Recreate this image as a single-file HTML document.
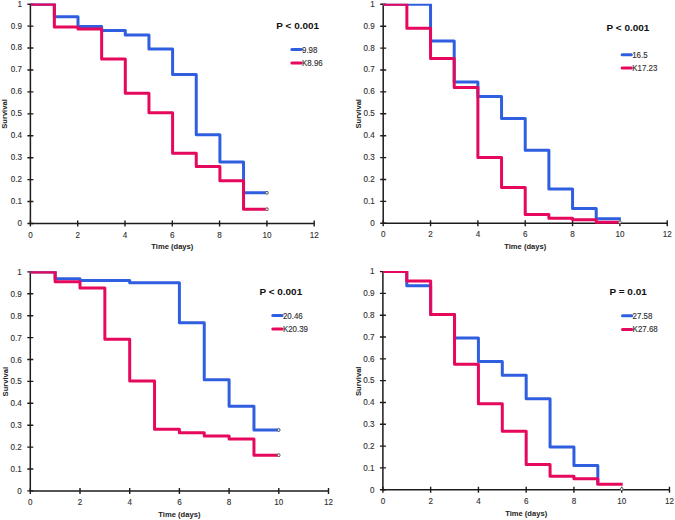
<!DOCTYPE html>
<html><head><meta charset="utf-8"><style>
html,body{margin:0;padding:0;background:#fff;}
body{width:675px;height:520px;overflow:hidden;}
svg{display:block;}
text{font-family:"Liberation Sans",sans-serif;}
</style></head><body>
<svg width="675" height="520" viewBox="0 0 675 520">
<rect width="675" height="520" fill="#fff"/>
<g>
<path d="M30.4 4.2 V223.5 H314.2" fill="none" stroke="#1c1c1c" stroke-width="1.5"/>
<path d="M27.4 223.5 H33.4 M27.4 201.57 H33.4 M27.4 179.64 H33.4 M27.4 157.71 H33.4 M27.4 135.78 H33.4 M27.4 113.85 H33.4 M27.4 91.92 H33.4 M27.4 69.99 H33.4 M27.4 48.06 H33.4 M27.4 26.13 H33.4 M27.4 4.2 H33.4 M30.4 220.5 V226.5 M77.7 220.5 V226.5 M125 220.5 V226.5 M172.3 220.5 V226.5 M219.6 220.5 V226.5 M266.9 220.5 V226.5 M314.2 220.5 V226.5" fill="none" stroke="#1c1c1c" stroke-width="1.4"/>
<text transform="translate(21.9 225.9) scale(0.9 1)" font-size="9" fill="#2e2e2e" text-anchor="end" stroke="#2e2e2e" stroke-width="0.12">0</text>
<text transform="translate(21.9 203.97) scale(0.9 1)" font-size="9" fill="#2e2e2e" text-anchor="end" stroke="#2e2e2e" stroke-width="0.12">0.1</text>
<text transform="translate(21.9 182.04) scale(0.9 1)" font-size="9" fill="#2e2e2e" text-anchor="end" stroke="#2e2e2e" stroke-width="0.12">0.2</text>
<text transform="translate(21.9 160.11) scale(0.9 1)" font-size="9" fill="#2e2e2e" text-anchor="end" stroke="#2e2e2e" stroke-width="0.12">0.3</text>
<text transform="translate(21.9 138.18) scale(0.9 1)" font-size="9" fill="#2e2e2e" text-anchor="end" stroke="#2e2e2e" stroke-width="0.12">0.4</text>
<text transform="translate(21.9 116.25) scale(0.9 1)" font-size="9" fill="#2e2e2e" text-anchor="end" stroke="#2e2e2e" stroke-width="0.12">0.5</text>
<text transform="translate(21.9 94.32) scale(0.9 1)" font-size="9" fill="#2e2e2e" text-anchor="end" stroke="#2e2e2e" stroke-width="0.12">0.6</text>
<text transform="translate(21.9 72.39) scale(0.9 1)" font-size="9" fill="#2e2e2e" text-anchor="end" stroke="#2e2e2e" stroke-width="0.12">0.7</text>
<text transform="translate(21.9 50.46) scale(0.9 1)" font-size="9" fill="#2e2e2e" text-anchor="end" stroke="#2e2e2e" stroke-width="0.12">0.8</text>
<text transform="translate(21.9 28.53) scale(0.9 1)" font-size="9" fill="#2e2e2e" text-anchor="end" stroke="#2e2e2e" stroke-width="0.12">0.9</text>
<text transform="translate(21.9 6.6) scale(0.9 1)" font-size="9" fill="#2e2e2e" text-anchor="end" stroke="#2e2e2e" stroke-width="0.12">1</text>
<text transform="translate(30.4 237.8) scale(0.9 1)" font-size="9" fill="#2e2e2e" text-anchor="middle" stroke="#2e2e2e" stroke-width="0.12">0</text>
<text transform="translate(77.7 237.8) scale(0.9 1)" font-size="9" fill="#2e2e2e" text-anchor="middle" stroke="#2e2e2e" stroke-width="0.12">2</text>
<text transform="translate(125 237.8) scale(0.9 1)" font-size="9" fill="#2e2e2e" text-anchor="middle" stroke="#2e2e2e" stroke-width="0.12">4</text>
<text transform="translate(172.3 237.8) scale(0.9 1)" font-size="9" fill="#2e2e2e" text-anchor="middle" stroke="#2e2e2e" stroke-width="0.12">6</text>
<text transform="translate(219.6 237.8) scale(0.9 1)" font-size="9" fill="#2e2e2e" text-anchor="middle" stroke="#2e2e2e" stroke-width="0.12">8</text>
<text transform="translate(266.9 237.8) scale(0.9 1)" font-size="9" fill="#2e2e2e" text-anchor="middle" stroke="#2e2e2e" stroke-width="0.12">10</text>
<text transform="translate(314.2 237.8) scale(0.9 1)" font-size="9" fill="#2e2e2e" text-anchor="middle" stroke="#2e2e2e" stroke-width="0.12">12</text>
<text transform="translate(172.3 248.9) scale(0.95 1)" font-size="8" font-weight="bold" fill="#222" text-anchor="middle">Time (days)</text>
<text transform="translate(7.4 114) rotate(-90) scale(0.95 1)" font-size="8" font-weight="bold" fill="#222" text-anchor="middle">Survival</text>
<clipPath id="c0"><rect x="28.4" y="3.6" width="287.8" height="222.3"/></clipPath>
<g clip-path="url(#c0)">
<path d="M30.7 4.2 H54.35 V16.7 H78 V26.57 H101.65 V30.52 H125.3 V34.9 H148.95 V48.94 H172.6 V74.38 H196.25 V134.68 H219.9 V162.1 H243.55 V192.8 H268.2" fill="none" stroke="#2f5fe0" stroke-width="3" stroke-linejoin="round"/>
<path d="M30.7 4.2 H54.35 V27.01 H78 V28.98 H101.65 V59.02 H125.3 V93.24 H148.95 V112.75 H172.6 V153.32 H196.25 V166.48 H219.9 V180.74 H243.55 V209.25 H268.2" fill="none" stroke="#e5085c" stroke-width="3" stroke-linejoin="round"/>
</g>
<circle cx="266.9" cy="192.8" r="1.35" fill="#fff" stroke="#555" stroke-width="0.9"/>
<circle cx="266.9" cy="209.25" r="1.35" fill="#fff" stroke="#555" stroke-width="0.9"/>
<text transform="translate(276.3 28.8) scale(1.02 1)" font-size="9.8" font-weight="bold" fill="#111" text-anchor="start">P < 0.001</text>
<path d="M291.9 49.5 H301.1" stroke="#2f5fe0" stroke-width="3" stroke-linecap="round"/>
<text transform="translate(302 52.5) scale(0.88 1)" font-size="9" fill="#2b2b2b" text-anchor="start" stroke="#2e2e2e" stroke-width="0.12">9.98</text>
<path d="M291.9 63 H301.1" stroke="#e5085c" stroke-width="3" stroke-linecap="round"/>
<text transform="translate(302 66) scale(0.88 1)" font-size="9" fill="#2b2b2b" text-anchor="start" stroke="#2e2e2e" stroke-width="0.12">K8.96</text>
</g>
<g>
<path d="M383.2 4.3 V223.3 H667.24" fill="none" stroke="#1c1c1c" stroke-width="1.5"/>
<path d="M380.2 223.3 H386.2 M380.2 201.4 H386.2 M380.2 179.5 H386.2 M380.2 157.6 H386.2 M380.2 135.7 H386.2 M380.2 113.8 H386.2 M380.2 91.9 H386.2 M380.2 70 H386.2 M380.2 48.1 H386.2 M380.2 26.2 H386.2 M380.2 4.3 H386.2 M383.2 220.3 V226.3 M430.54 220.3 V226.3 M477.88 220.3 V226.3 M525.22 220.3 V226.3 M572.56 220.3 V226.3 M619.9 220.3 V226.3 M667.24 220.3 V226.3" fill="none" stroke="#1c1c1c" stroke-width="1.4"/>
<text transform="translate(374.7 225.7) scale(0.9 1)" font-size="9" fill="#2e2e2e" text-anchor="end" stroke="#2e2e2e" stroke-width="0.12">0</text>
<text transform="translate(374.7 203.8) scale(0.9 1)" font-size="9" fill="#2e2e2e" text-anchor="end" stroke="#2e2e2e" stroke-width="0.12">0.1</text>
<text transform="translate(374.7 181.9) scale(0.9 1)" font-size="9" fill="#2e2e2e" text-anchor="end" stroke="#2e2e2e" stroke-width="0.12">0.2</text>
<text transform="translate(374.7 160) scale(0.9 1)" font-size="9" fill="#2e2e2e" text-anchor="end" stroke="#2e2e2e" stroke-width="0.12">0.3</text>
<text transform="translate(374.7 138.1) scale(0.9 1)" font-size="9" fill="#2e2e2e" text-anchor="end" stroke="#2e2e2e" stroke-width="0.12">0.4</text>
<text transform="translate(374.7 116.2) scale(0.9 1)" font-size="9" fill="#2e2e2e" text-anchor="end" stroke="#2e2e2e" stroke-width="0.12">0.5</text>
<text transform="translate(374.7 94.3) scale(0.9 1)" font-size="9" fill="#2e2e2e" text-anchor="end" stroke="#2e2e2e" stroke-width="0.12">0.6</text>
<text transform="translate(374.7 72.4) scale(0.9 1)" font-size="9" fill="#2e2e2e" text-anchor="end" stroke="#2e2e2e" stroke-width="0.12">0.7</text>
<text transform="translate(374.7 50.5) scale(0.9 1)" font-size="9" fill="#2e2e2e" text-anchor="end" stroke="#2e2e2e" stroke-width="0.12">0.8</text>
<text transform="translate(374.7 28.6) scale(0.9 1)" font-size="9" fill="#2e2e2e" text-anchor="end" stroke="#2e2e2e" stroke-width="0.12">0.9</text>
<text transform="translate(374.7 6.7) scale(0.9 1)" font-size="9" fill="#2e2e2e" text-anchor="end" stroke="#2e2e2e" stroke-width="0.12">1</text>
<text transform="translate(383.2 237.1) scale(0.9 1)" font-size="9" fill="#2e2e2e" text-anchor="middle" stroke="#2e2e2e" stroke-width="0.12">0</text>
<text transform="translate(430.54 237.1) scale(0.9 1)" font-size="9" fill="#2e2e2e" text-anchor="middle" stroke="#2e2e2e" stroke-width="0.12">2</text>
<text transform="translate(477.88 237.1) scale(0.9 1)" font-size="9" fill="#2e2e2e" text-anchor="middle" stroke="#2e2e2e" stroke-width="0.12">4</text>
<text transform="translate(525.22 237.1) scale(0.9 1)" font-size="9" fill="#2e2e2e" text-anchor="middle" stroke="#2e2e2e" stroke-width="0.12">6</text>
<text transform="translate(572.56 237.1) scale(0.9 1)" font-size="9" fill="#2e2e2e" text-anchor="middle" stroke="#2e2e2e" stroke-width="0.12">8</text>
<text transform="translate(619.9 237.1) scale(0.9 1)" font-size="9" fill="#2e2e2e" text-anchor="middle" stroke="#2e2e2e" stroke-width="0.12">10</text>
<text transform="translate(667.24 237.1) scale(0.9 1)" font-size="9" fill="#2e2e2e" text-anchor="middle" stroke="#2e2e2e" stroke-width="0.12">12</text>
<text transform="translate(525.22 248.7) scale(0.95 1)" font-size="8" font-weight="bold" fill="#222" text-anchor="middle">Time (days)</text>
<text transform="translate(360.9 113.8) rotate(-90) scale(0.95 1)" font-size="8" font-weight="bold" fill="#222" text-anchor="middle">Survival</text>
<clipPath id="c1"><rect x="381.2" y="3.7" width="288.04" height="222"/></clipPath>
<g clip-path="url(#c1)">
<path d="M383.2 4.3 H406.87 V4.3 H430.54 V41.09 H454.21 V82.05 H477.88 V96.5 H501.55 V118.62 H525.22 V150.15 H548.89 V188.92 H572.56 V208.41 H596.23 V218.7 H620.9" fill="none" stroke="#2f5fe0" stroke-width="3" stroke-linejoin="round"/>
<path d="M383.2 4.3 H406.87 V28.17 H430.54 V58.61 H454.21 V87.52 H477.88 V157.38 H501.55 V187.38 H525.22 V214.54 H548.89 V218.26 H572.56 V219.8 H596.23 V222.21 H620.9" fill="none" stroke="#e5085c" stroke-width="3" stroke-linejoin="round"/>
</g>
<circle cx="619.9" cy="222.21" r="1.35" fill="#fff" stroke="#555" stroke-width="0.9"/>
<text transform="translate(606.6 31.4) scale(1.02 1)" font-size="9.8" font-weight="bold" fill="#111" text-anchor="start">P < 0.001</text>
<path d="M622.1 54.8 H631.3" stroke="#2f5fe0" stroke-width="3" stroke-linecap="round"/>
<text transform="translate(632.2 57.8) scale(0.88 1)" font-size="9" fill="#2b2b2b" text-anchor="start" stroke="#2e2e2e" stroke-width="0.12">16.5</text>
<path d="M622.1 68 H631.3" stroke="#e5085c" stroke-width="3" stroke-linecap="round"/>
<text transform="translate(632.2 71) scale(0.88 1)" font-size="9" fill="#2b2b2b" text-anchor="start" stroke="#2e2e2e" stroke-width="0.12">K17.23</text>
</g>
<g>
<path d="M30.3 271.9 V490.9 H328.5" fill="none" stroke="#1c1c1c" stroke-width="1.5"/>
<path d="M27.3 490.9 H33.3 M27.3 469 H33.3 M27.3 447.1 H33.3 M27.3 425.2 H33.3 M27.3 403.3 H33.3 M27.3 381.4 H33.3 M27.3 359.5 H33.3 M27.3 337.6 H33.3 M27.3 315.7 H33.3 M27.3 293.8 H33.3 M27.3 271.9 H33.3 M30.3 487.9 V493.9 M80 487.9 V493.9 M129.7 487.9 V493.9 M179.4 487.9 V493.9 M229.1 487.9 V493.9 M278.8 487.9 V493.9 M328.5 487.9 V493.9" fill="none" stroke="#1c1c1c" stroke-width="1.4"/>
<text transform="translate(21.8 493.9) scale(0.9 1)" font-size="9" fill="#2e2e2e" text-anchor="end" stroke="#2e2e2e" stroke-width="0.12">0</text>
<text transform="translate(21.8 472) scale(0.9 1)" font-size="9" fill="#2e2e2e" text-anchor="end" stroke="#2e2e2e" stroke-width="0.12">0.1</text>
<text transform="translate(21.8 450.1) scale(0.9 1)" font-size="9" fill="#2e2e2e" text-anchor="end" stroke="#2e2e2e" stroke-width="0.12">0.2</text>
<text transform="translate(21.8 428.2) scale(0.9 1)" font-size="9" fill="#2e2e2e" text-anchor="end" stroke="#2e2e2e" stroke-width="0.12">0.3</text>
<text transform="translate(21.8 406.3) scale(0.9 1)" font-size="9" fill="#2e2e2e" text-anchor="end" stroke="#2e2e2e" stroke-width="0.12">0.4</text>
<text transform="translate(21.8 384.4) scale(0.9 1)" font-size="9" fill="#2e2e2e" text-anchor="end" stroke="#2e2e2e" stroke-width="0.12">0.5</text>
<text transform="translate(21.8 362.5) scale(0.9 1)" font-size="9" fill="#2e2e2e" text-anchor="end" stroke="#2e2e2e" stroke-width="0.12">0.6</text>
<text transform="translate(21.8 340.6) scale(0.9 1)" font-size="9" fill="#2e2e2e" text-anchor="end" stroke="#2e2e2e" stroke-width="0.12">0.7</text>
<text transform="translate(21.8 318.7) scale(0.9 1)" font-size="9" fill="#2e2e2e" text-anchor="end" stroke="#2e2e2e" stroke-width="0.12">0.8</text>
<text transform="translate(21.8 296.8) scale(0.9 1)" font-size="9" fill="#2e2e2e" text-anchor="end" stroke="#2e2e2e" stroke-width="0.12">0.9</text>
<text transform="translate(21.8 274.9) scale(0.9 1)" font-size="9" fill="#2e2e2e" text-anchor="end" stroke="#2e2e2e" stroke-width="0.12">1</text>
<text transform="translate(30.3 504.8) scale(0.9 1)" font-size="9" fill="#2e2e2e" text-anchor="middle" stroke="#2e2e2e" stroke-width="0.12">0</text>
<text transform="translate(80 504.8) scale(0.9 1)" font-size="9" fill="#2e2e2e" text-anchor="middle" stroke="#2e2e2e" stroke-width="0.12">2</text>
<text transform="translate(129.7 504.8) scale(0.9 1)" font-size="9" fill="#2e2e2e" text-anchor="middle" stroke="#2e2e2e" stroke-width="0.12">4</text>
<text transform="translate(179.4 504.8) scale(0.9 1)" font-size="9" fill="#2e2e2e" text-anchor="middle" stroke="#2e2e2e" stroke-width="0.12">6</text>
<text transform="translate(229.1 504.8) scale(0.9 1)" font-size="9" fill="#2e2e2e" text-anchor="middle" stroke="#2e2e2e" stroke-width="0.12">8</text>
<text transform="translate(278.8 504.8) scale(0.9 1)" font-size="9" fill="#2e2e2e" text-anchor="middle" stroke="#2e2e2e" stroke-width="0.12">10</text>
<text transform="translate(328.5 504.8) scale(0.9 1)" font-size="9" fill="#2e2e2e" text-anchor="middle" stroke="#2e2e2e" stroke-width="0.12">12</text>
<text transform="translate(179.4 517) scale(0.95 1)" font-size="8" font-weight="bold" fill="#222" text-anchor="middle">Time (days)</text>
<text transform="translate(7.5 381.6) rotate(-90) scale(0.95 1)" font-size="8" font-weight="bold" fill="#222" text-anchor="middle">Survival</text>
<clipPath id="c2"><rect x="28.3" y="271.3" width="302.2" height="222"/></clipPath>
<g clip-path="url(#c2)">
<path d="M30.3 271.9 H55.15 V278.69 H80 V280.44 H104.85 V280.44 H129.7 V282.63 H154.55 V282.63 H179.4 V322.71 H204.25 V379.65 H229.1 V406.15 H253.95 V430.02 H279.8" fill="none" stroke="#2f5fe0" stroke-width="3" stroke-linejoin="round"/>
<path d="M30.3 271.9 H55.15 V281.75 H80 V288.11 H104.85 V339.13 H129.7 V380.96 H154.55 V429.14 H179.4 V432.65 H204.25 V435.93 H229.1 V439 H253.95 V455.2 H279.8" fill="none" stroke="#e5085c" stroke-width="3" stroke-linejoin="round"/>
</g>
<circle cx="278.8" cy="430.02" r="1.35" fill="#fff" stroke="#555" stroke-width="0.9"/>
<circle cx="278.8" cy="455.2" r="1.35" fill="#fff" stroke="#555" stroke-width="0.9"/>
<text transform="translate(259.4 294.9) scale(1.02 1)" font-size="9.8" font-weight="bold" fill="#111" text-anchor="start">P < 0.001</text>
<path d="M272.8 315.5 H282" stroke="#2f5fe0" stroke-width="3" stroke-linecap="round"/>
<text transform="translate(282.9 318.5) scale(0.88 1)" font-size="9" fill="#2b2b2b" text-anchor="start" stroke="#2e2e2e" stroke-width="0.12">20.46</text>
<path d="M272.8 328.9 H282" stroke="#e5085c" stroke-width="3" stroke-linecap="round"/>
<text transform="translate(282.9 331.9) scale(0.88 1)" font-size="9" fill="#2b2b2b" text-anchor="start" stroke="#2e2e2e" stroke-width="0.12">K20.39</text>
</g>
<g>
<path d="M382.9 271.6 V489.7 H669.46" fill="none" stroke="#1c1c1c" stroke-width="1.5"/>
<path d="M379.9 489.7 H385.9 M379.9 467.89 H385.9 M379.9 446.08 H385.9 M379.9 424.27 H385.9 M379.9 402.46 H385.9 M379.9 380.65 H385.9 M379.9 358.84 H385.9 M379.9 337.03 H385.9 M379.9 315.22 H385.9 M379.9 293.41 H385.9 M379.9 271.6 H385.9 M382.9 486.7 V492.7 M430.66 486.7 V492.7 M478.42 486.7 V492.7 M526.18 486.7 V492.7 M573.94 486.7 V492.7 M621.7 486.7 V492.7 M669.46 486.7 V492.7" fill="none" stroke="#1c1c1c" stroke-width="1.4"/>
<text transform="translate(374.4 492.5) scale(0.9 1)" font-size="9" fill="#2e2e2e" text-anchor="end" stroke="#2e2e2e" stroke-width="0.12">0</text>
<text transform="translate(374.4 470.69) scale(0.9 1)" font-size="9" fill="#2e2e2e" text-anchor="end" stroke="#2e2e2e" stroke-width="0.12">0.1</text>
<text transform="translate(374.4 448.88) scale(0.9 1)" font-size="9" fill="#2e2e2e" text-anchor="end" stroke="#2e2e2e" stroke-width="0.12">0.2</text>
<text transform="translate(374.4 427.07) scale(0.9 1)" font-size="9" fill="#2e2e2e" text-anchor="end" stroke="#2e2e2e" stroke-width="0.12">0.3</text>
<text transform="translate(374.4 405.26) scale(0.9 1)" font-size="9" fill="#2e2e2e" text-anchor="end" stroke="#2e2e2e" stroke-width="0.12">0.4</text>
<text transform="translate(374.4 383.45) scale(0.9 1)" font-size="9" fill="#2e2e2e" text-anchor="end" stroke="#2e2e2e" stroke-width="0.12">0.5</text>
<text transform="translate(374.4 361.64) scale(0.9 1)" font-size="9" fill="#2e2e2e" text-anchor="end" stroke="#2e2e2e" stroke-width="0.12">0.6</text>
<text transform="translate(374.4 339.83) scale(0.9 1)" font-size="9" fill="#2e2e2e" text-anchor="end" stroke="#2e2e2e" stroke-width="0.12">0.7</text>
<text transform="translate(374.4 318.02) scale(0.9 1)" font-size="9" fill="#2e2e2e" text-anchor="end" stroke="#2e2e2e" stroke-width="0.12">0.8</text>
<text transform="translate(374.4 296.21) scale(0.9 1)" font-size="9" fill="#2e2e2e" text-anchor="end" stroke="#2e2e2e" stroke-width="0.12">0.9</text>
<text transform="translate(374.4 274.4) scale(0.9 1)" font-size="9" fill="#2e2e2e" text-anchor="end" stroke="#2e2e2e" stroke-width="0.12">1</text>
<text transform="translate(382.9 503.8) scale(0.9 1)" font-size="9" fill="#2e2e2e" text-anchor="middle" stroke="#2e2e2e" stroke-width="0.12">0</text>
<text transform="translate(430.66 503.8) scale(0.9 1)" font-size="9" fill="#2e2e2e" text-anchor="middle" stroke="#2e2e2e" stroke-width="0.12">2</text>
<text transform="translate(478.42 503.8) scale(0.9 1)" font-size="9" fill="#2e2e2e" text-anchor="middle" stroke="#2e2e2e" stroke-width="0.12">4</text>
<text transform="translate(526.18 503.8) scale(0.9 1)" font-size="9" fill="#2e2e2e" text-anchor="middle" stroke="#2e2e2e" stroke-width="0.12">6</text>
<text transform="translate(573.94 503.8) scale(0.9 1)" font-size="9" fill="#2e2e2e" text-anchor="middle" stroke="#2e2e2e" stroke-width="0.12">8</text>
<text transform="translate(621.7 503.8) scale(0.9 1)" font-size="9" fill="#2e2e2e" text-anchor="middle" stroke="#2e2e2e" stroke-width="0.12">10</text>
<text transform="translate(669.46 503.8) scale(0.9 1)" font-size="9" fill="#2e2e2e" text-anchor="middle" stroke="#2e2e2e" stroke-width="0.12">12</text>
<text transform="translate(526.18 515.5) scale(0.95 1)" font-size="8" font-weight="bold" fill="#222" text-anchor="middle">Time (days)</text>
<text transform="translate(360.9 381.3) rotate(-90) scale(0.95 1)" font-size="8" font-weight="bold" fill="#222" text-anchor="middle">Survival</text>
<clipPath id="c3"><rect x="380.9" y="271" width="290.56" height="221.1"/></clipPath>
<g clip-path="url(#c3)">
<path d="M382.9 271.6 H406.78 V285.78 H430.66 V314.57 H454.54 V338.12 H478.42 V361.46 H502.3 V375.2 H526.18 V398.75 H550.06 V446.95 H573.94 V465.49 H597.82 V484.9" fill="none" stroke="#2f5fe0" stroke-width="3" stroke-linejoin="round"/>
<path d="M382.9 271.6 H406.78 V280.98 H430.66 V314.57 H454.54 V364.29 H478.42 V403.77 H502.3 V431.25 H526.18 V464.4 H550.06 V476.18 H573.94 V478.79 H597.82 V484.25 H622.7" fill="none" stroke="#e5085c" stroke-width="3" stroke-linejoin="round"/>
</g>
<circle cx="621.7" cy="489.05" r="1.35" fill="#fff" stroke="#555" stroke-width="0.9"/>
<text transform="translate(609.5 295.2) scale(1.02 1)" font-size="9.8" font-weight="bold" fill="#111" text-anchor="start">P = 0.01</text>
<path d="M622.5 315.8 H631.7" stroke="#2f5fe0" stroke-width="3" stroke-linecap="round"/>
<text transform="translate(632.6 318.8) scale(0.88 1)" font-size="9" fill="#2b2b2b" text-anchor="start" stroke="#2e2e2e" stroke-width="0.12">27.58</text>
<path d="M622.5 329.4 H631.7" stroke="#e5085c" stroke-width="3" stroke-linecap="round"/>
<text transform="translate(632.6 332.4) scale(0.88 1)" font-size="9" fill="#2b2b2b" text-anchor="start" stroke="#2e2e2e" stroke-width="0.12">K27.68</text>
</g>
</svg>
</body></html>
